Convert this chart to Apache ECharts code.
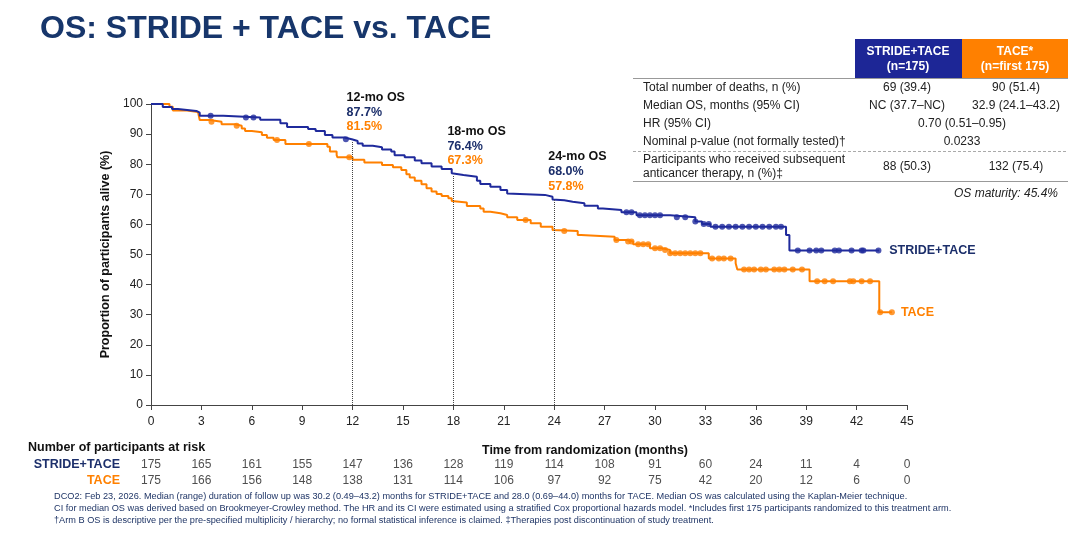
<!DOCTYPE html>
<html>
<head>
<meta charset="utf-8">
<script src="https://cdn.jsdelivr.net/npm/echarts/dist/echarts.min.js"></script>
<style>
  html, body { margin: 0; padding: 0; background: #fff; }
  #main { width: 1080px; height: 535px; }
</style>
</head>
<body>
<div id="main"></div>
<script>
var FONT = 'Liberation Sans, Arial, sans-serif';
var NAVY = '#1c2f6b';
var BLUE = '#1f2a9c';
var ORANGE = '#ff8000';

// KM steps [month, % alive after the drop]
var strideSteps = [[0,100],[0.7,99],[1.25,98.3],[1.6,97.7],[2.7,97.1],[2.9,96.1],[4.3,95.5],[6.5,94.8],[7.7,93.6],[8.1,92.4],
  [9.35,91.7],[9.8,91],[10.35,89.7],[10.8,88.9],[11.5,88.3],[11.95,87.7],[12.3,86.9],[12.6,86.1],[13.2,85.6],[13.75,84.9],
  [14.3,84.2],[14.5,83],[15.1,82.3],[15.7,81.2],[16.1,80.3],[16.7,79.2],[17.3,78.4],[17.9,77],[18,76.4],[18.6,75.8],
  [19.4,74.5],[19.6,73.4],[20.2,72.5],[20.8,71.4],[21.2,70.3],[21.3,69.8],[23.45,69.2],[23.9,68.3],[24,68],[24.6,67.5],
  [25.1,67],[25.8,66.2],[26.6,65.3],[26.9,64.8],[28,64],[28.9,63],[30.9,62.4],[32.4,61],[32.8,60.1],[33.3,59.2],
  [37.8,56.5],[38,51.3],[43.35,51.3]];
var taceSteps = [[0,100],[1.1,99.1],[1.3,97.8],[2.15,97.3],[2.8,96.9],[2.9,94.7],[3.5,94.1],[4.2,93.3],[5,92.8],[5.4,91.9],
  [5.6,91],[6,90.6],[6.6,89.7],[6.9,88.8],[7.3,88],[8,86.7],[10.5,85.8],[10.65,84.2],[11.05,83],[11.1,82.3],
  [12,81.5],[12.7,80.6],[13.75,79.7],[14.4,79],[14.9,78.1],[15.2,76.7],[15.4,75.6],[15.7,74.5],[16.1,73.3],[16.4,72],
  [16.7,70.9],[17,70.1],[17.3,69.4],[17.7,68.7],[17.9,67.8],[18,67.3],[18.8,66.1],[19.6,65.3],[19.8,64.2],[20.2,63.7],
  [20.8,63.1],[21.2,62.4],[21.8,61.5],[22.6,60.4],[23.2,59.2],[23.9,58.1],[24,57.8],[25.4,56.5],[25.6,55.9],[27.6,54.8],
  [28.3,54.3],[28.7,53.4],[29.7,52.1],[30.4,51.5],[30.9,50.4],[33.2,48.7],[34.8,47.1],[34.9,45],[39.2,41.1],[43.35,30.8],
  [44.1,30.8]];

// censor times (months)
var strideCensor = [3.55,5.65,6.1,11.6,28.3,28.6,29.1,29.4,29.7,30,30.3,31.3,31.8,32.4,32.9,33.2,33.6,34,34.4,34.8,
  35.2,35.6,36,36.4,36.8,37.2,37.5,38.5,39.2,39.6,39.9,40.7,40.95,41.7,42.3,42.4,43.3];
var taceCensor = [3.6,5.1,7.5,9.4,11.8,22.3,24.6,27.7,28.4,28.6,29,29.3,29.6,30,30.3,30.6,30.9,31.2,31.5,31.8,
  32.1,32.4,32.7,33.4,33.8,34.1,34.5,35.3,35.6,35.9,36.3,36.6,37.1,37.4,37.7,38.2,38.75,39.65,40.1,40.6,
  41.6,41.8,42.3,42.8,43.4,44.1];

// landmark OS
var landmarks = [12, 18, 24];
var strideLand = [87.7, 76.4, 68.0];
var taceLand = [81.5, 67.3, 57.8];

// number at risk
var riskTimes = [0,3,6,9,12,15,18,21,24,27,30,33,36,39,42,45];
var strideRisk = [175,165,161,155,147,136,128,119,114,108,91,60,24,11,4,0];
var taceRisk = [175,166,156,148,138,131,114,106,97,92,75,42,20,12,6,0];

// summary table
var rowLabels = ['Total number of deaths, n (%)', 'Median OS, months (95% CI)', 'HR (95% CI)',
  'Nominal p-value (not formally tested)\u2020', 'Participants who received subsequent\nanticancer therapy, n (%)\u2021'];
var strideCol = ['69 (39.4)', 'NC (37.7\u2013NC)', '', '', '88 (50.3)'];
var taceCol = ['90 (51.4)', '32.9 (24.1\u201343.2)', '', '', '132 (75.4)'];
var bothCol = ['', '', '0.70 (0.51\u20130.95)', '0.0233', ''];

var footnotes = [
  'DCO2: Feb 23, 2026. Median (range) duration of follow up was 30.2 (0.49\u201343.2) months for STRIDE+TACE and 28.0 (0.69\u201344.0) months for TACE. Median OS was calculated using the Kaplan-Meier technique.',
  'CI for median OS was derived based on Brookmeyer-Crowley method. The HR and its CI were estimated using a stratified Cox proportional hazards model. *Includes first 175 participants randomized to this treatment arm.',
  '\u2020Arm B OS is descriptive per the pre-specified multiplicity / hierarchy; no formal statistical inference is claimed. \u2021Therapies post discontinuation of study treatment.'
];

function survAt(steps, t) {
  var v = steps[0][1];
  for (var i = 0; i < steps.length; i++) {
    if (steps[i][0] <= t) v = steps[i][1];
  }
  return v;
}

function boldText(color) {
  return { fontFamily: FONT, fontWeight: 'bold', fontSize: 12.5, color: color };
}

var chart = echarts.init(document.getElementById('main'));

// title, table, footnotes
var g = [];
g.push({ type: 'text', left: 40, top: 13, style: { text: 'OS: STRIDE + TACE vs. TACE', font: 'bold 32px ' + FONT, fill: '#17366b' } });
g.push({ type: 'rect', shape: { x: 855, y: 39, width: 107, height: 39 }, style: { fill: '#1d2696' } });
g.push({ type: 'rect', shape: { x: 962, y: 39, width: 106, height: 39 }, style: { fill: '#ff8000' } });
g.push({ type: 'text', x: 908, y: 59, style: { text: 'STRIDE+TACE\n(n=175)', font: 'bold 12px ' + FONT, fill: '#fff', align: 'center', verticalAlign: 'middle', lineHeight: 15 } });
g.push({ type: 'text', x: 1015, y: 59, style: { text: 'TACE*\n(n=first 175)', font: 'bold 12px ' + FONT, fill: '#fff', align: 'center', verticalAlign: 'middle', lineHeight: 15 } });
g.push({ type: 'line', shape: { x1: 633, y1: 78.5, x2: 1068, y2: 78.5 }, style: { stroke: '#999', lineWidth: 1 } });
g.push({ type: 'line', shape: { x1: 633, y1: 151.5, x2: 1068, y2: 151.5 }, style: { stroke: '#aaa', lineWidth: 1, lineDash: [3, 2] } });
g.push({ type: 'line', shape: { x1: 633, y1: 181.5, x2: 1068, y2: 181.5 }, style: { stroke: '#999', lineWidth: 1 } });
var rowY = [88, 106, 124, 142, 166.5];
for (var r = 0; r < rowLabels.length; r++) {
  g.push({ type: 'text', x: 643, y: rowY[r], style: { text: rowLabels[r], font: '12px ' + FONT, fill: '#222', verticalAlign: 'middle', lineHeight: 13.5 } });
  if (strideCol[r]) g.push({ type: 'text', x: 907, y: rowY[r], style: { text: strideCol[r], font: '12px ' + FONT, fill: '#222', align: 'center', verticalAlign: 'middle' } });
  if (taceCol[r]) g.push({ type: 'text', x: 1016, y: rowY[r], style: { text: taceCol[r], font: '12px ' + FONT, fill: '#222', align: 'center', verticalAlign: 'middle' } });
  if (bothCol[r]) g.push({ type: 'text', x: 962, y: rowY[r], style: { text: bothCol[r], font: '12px ' + FONT, fill: '#222', align: 'center', verticalAlign: 'middle' } });
}
g.push({ type: 'text', x: 1058, y: 194, style: { text: 'OS maturity: 45.4%', font: 'italic 12px ' + FONT, fill: '#222', align: 'right', verticalAlign: 'middle' } });
g.push({ type: 'text', x: 28, y: 448, style: { text: 'Number of participants at risk', font: 'bold 12.5px ' + FONT, fill: '#111', verticalAlign: 'middle' } });
for (var f = 0; f < footnotes.length; f++) {
  g.push({ type: 'text', x: 54, y: 496 + f * 12, style: { text: footnotes[f], font: '9.2px ' + FONT, fill: '#1f3566', verticalAlign: 'middle' } });
}

// landmark annotations
var markPts = [];
var markLines = [];
for (var k = 0; k < landmarks.length; k++) {
  markPts.push({
    coord: [landmarks[k], strideLand[k]],
    label: {
      show: true, position: [-6, -51], align: 'left', verticalAlign: 'top',
      formatter: '{h|' + landmarks[k] + '-mo OS}\n{s|' + strideLand[k].toFixed(1) + '%}\n{t|' + taceLand[k].toFixed(1) + '%}',
      rich: {
        h: Object.assign(boldText('#111'), { lineHeight: 15 }),
        s: Object.assign(boldText(NAVY), { lineHeight: 14.5 }),
        t: Object.assign(boldText(ORANGE), { lineHeight: 14.5 })
      }
    }
  });
  markLines.push([{ coord: [landmarks[k], 0] }, { coord: [landmarks[k], strideLand[k]] }]);
}

var riskData = [];
for (var i = 0; i < riskTimes.length; i++) {
  riskData.push([riskTimes[i], 'STRIDE+TACE', strideRisk[i]]);
  riskData.push([riskTimes[i], 'TACE', taceRisk[i]]);
}

var option = {
  backgroundColor: '#fff',
  animation: false,
  textStyle: { fontFamily: FONT },
  grid: [
    { left: 151, right: 173, top: 104, bottom: 130 },
    { left: 151, right: 173, top: 457, height: 32 }
  ],
  xAxis: [
    {
      type: 'value', gridIndex: 0, min: 0, max: 45, interval: 3,
      name: 'Time from randomization (months)', nameLocation: 'middle', nameGap: 39,
      nameTextStyle: { fontWeight: 'bold', fontSize: 12.5, color: '#111', padding: [0, 0, 0, 112] },
      axisLine: { lineStyle: { color: '#444' } },
      axisTick: { length: 5, lineStyle: { color: '#444' } },
      axisLabel: { fontSize: 12, color: '#222', margin: 11 },
      splitLine: { show: false }
    },
    { type: 'value', gridIndex: 1, min: 0, max: 45, show: false }
  ],
  yAxis: [
    {
      type: 'value', gridIndex: 0, min: 0, max: 100, interval: 10,
      name: 'Proportion of participants alive (%)', nameLocation: 'middle', nameGap: 30, nameRotate: 90,
      nameTextStyle: { fontWeight: 'bold', fontSize: 12.5, color: '#111' },
      axisLine: { show: true, lineStyle: { color: '#444' } },
      axisTick: { show: true, length: 5, lineStyle: { color: '#444' } },
      axisLabel: { fontSize: 12, color: '#222', margin: 8 },
      splitLine: { show: false }
    },
    {
      type: 'category', gridIndex: 1, inverse: true, data: ['STRIDE+TACE', 'TACE'],
      axisLine: { show: false }, axisTick: { show: false }, splitLine: { show: false },
      axisLabel: {
        margin: 31,
        formatter: function (v) { return v === 'TACE' ? '{t|' + v + '}' : '{s|' + v + '}'; },
        rich: { s: boldText(NAVY), t: boldText(ORANGE) }
      }
    }
  ],
  series: [
    {
      name: 'STRIDE+TACE', type: 'line', step: 'end', data: strideSteps, symbol: 'none', z: 4,
      lineStyle: { color: BLUE, width: 2 }, itemStyle: { color: BLUE },
      endLabel: Object.assign({ show: true, formatter: 'STRIDE+TACE', distance: 10 }, boldText(NAVY)),
      markLine: {
        silent: true, symbol: 'none', label: { show: false },
        lineStyle: { color: '#444', type: 'dotted', width: 1 }, data: markLines
      },
      markPoint: { silent: true, symbol: 'circle', symbolSize: 0, data: markPts }
    },
    {
      name: 'TACE', type: 'line', step: 'end', data: taceSteps, symbol: 'none', z: 3,
      lineStyle: { color: ORANGE, width: 2 }, itemStyle: { color: ORANGE },
      endLabel: Object.assign({ show: true, formatter: 'TACE', distance: 9 }, boldText(ORANGE))
    },
    {
      type: 'scatter', symbolSize: 6, z: 5, itemStyle: { color: BLUE },
      data: strideCensor.map(function (t) { return [t, survAt(strideSteps, t)]; })
    },
    {
      type: 'scatter', symbolSize: 6, z: 5, itemStyle: { color: ORANGE },
      data: taceCensor.map(function (t) { return [t, survAt(taceSteps, t)]; })
    },
    {
      type: 'scatter', xAxisIndex: 1, yAxisIndex: 1, symbolSize: 1, silent: true,
      itemStyle: { color: 'rgba(0,0,0,0)' },
      label: {
        show: true, position: 'inside', fontSize: 12, color: '#222',
        formatter: function (p) { return p.value[2]; }
      },
      data: riskData
    }
  ],
  graphic: g
};
chart.setOption(option);
</script>
</body>
</html>
